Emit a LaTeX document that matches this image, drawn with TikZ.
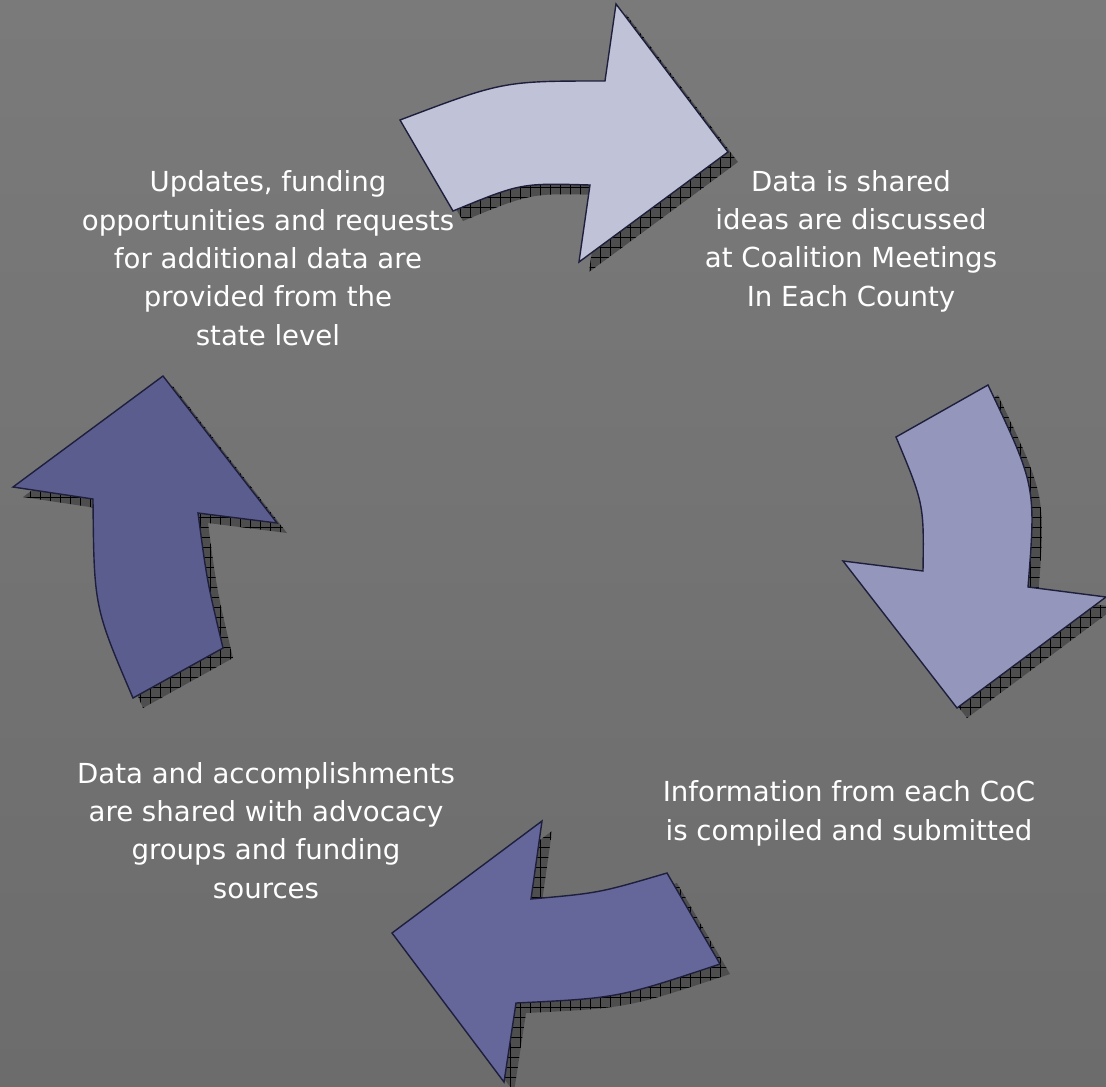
\documentclass[tikz,border=0pt]{standalone}
\usepackage{fontspec}
\setmainfont{DejaVu Sans}
\usetikzlibrary{patterns.meta}
\definecolor{bgtop}{HTML}{7A7A7A}
\definecolor{bgbot}{HTML}{6C6C6C}
\definecolor{shadowgray}{HTML}{4E4E4E}
\definecolor{outline}{HTML}{1E1F3C}
\definecolor{arrowA}{HTML}{C0C2D8}
\definecolor{arrowB}{HTML}{9496BB}
\definecolor{arrowC}{HTML}{65679A}
\definecolor{arrowD}{HTML}{5B5D8F}
\begin{document}
\begin{tikzpicture}[x=1pt,y=-1pt,
  shadowshape/.style={fill=shadowgray,
    postaction={pattern={Hatch[angle=0,distance=10pt,line width=0.5pt]},pattern color=black}},
  arrowshape/.style={draw=outline,line width=1.4pt,line join=miter},
  lbl/.style={text=white,align=center,font=\fontsize{27.6}{38.3}\selectfont,inner sep=0pt,anchor=base}]
\useasboundingbox (0,0) rectangle (1106,1087);
\shade[top color=bgtop,bottom color=bgbot] (0,0) rectangle (1106,1087);
% arrow outlines
\def\pathA{(400,120) -- (453,211) .. controls (521,183) .. (590,185) -- (579,262) -- (728,152) -- (616,4) -- (605,81) .. controls (503,81) .. (400,120) -- cycle}
\def\pathB{(896,437) -- (988,385) .. controls (1036,486) .. (1028,587) -- (1106,597) -- (957,708) -- (843,561) -- (923,571) .. controls (924,504) .. (896,437) -- cycle}
\def\pathC{(392,933) -- (542,821) -- (531,899) .. controls (599,893) .. (667,873) -- (720,964) .. controls (618,998) .. (516,1003) -- (504,1082) -- cycle}
\def\pathD{(163,376) -- (277,523) -- (198,513) .. controls (207,581) .. (223,648) -- (133,698) .. controls (94,607) .. (93,499) -- (13,487) -- cycle}
% shadows
\begin{scope}[shift={(10,10)}]
  \path[shadowshape] \pathA;
  \path[shadowshape] \pathB;
  \path[shadowshape] \pathC;
  \path[shadowshape] \pathD;
\end{scope}
% arrows
\path[arrowshape,fill=arrowA] \pathA;
\path[arrowshape,fill=arrowB] \pathB;
\path[arrowshape,fill=arrowC] \pathC;
\path[arrowshape,fill=arrowD] \pathD;
% labels (anchor = baseline of the last line)
\node[lbl] (tl) at (268,345) {Updates, funding\\opportunities and requests\\for additional data are\\provided from the\\state level};
\node[lbl] (tr) at (851,306) {Data is shared\\ideas are discussed\\at Coalition Meetings\\In Each County};
\node[lbl] (br) at (849,840) {Information from each CoC\\is compiled and submitted};
\node[lbl] (bl) at (266,898) {Data and accomplishments\\are shared with advocacy\\groups and funding\\sources};
\end{tikzpicture}
\end{document}
